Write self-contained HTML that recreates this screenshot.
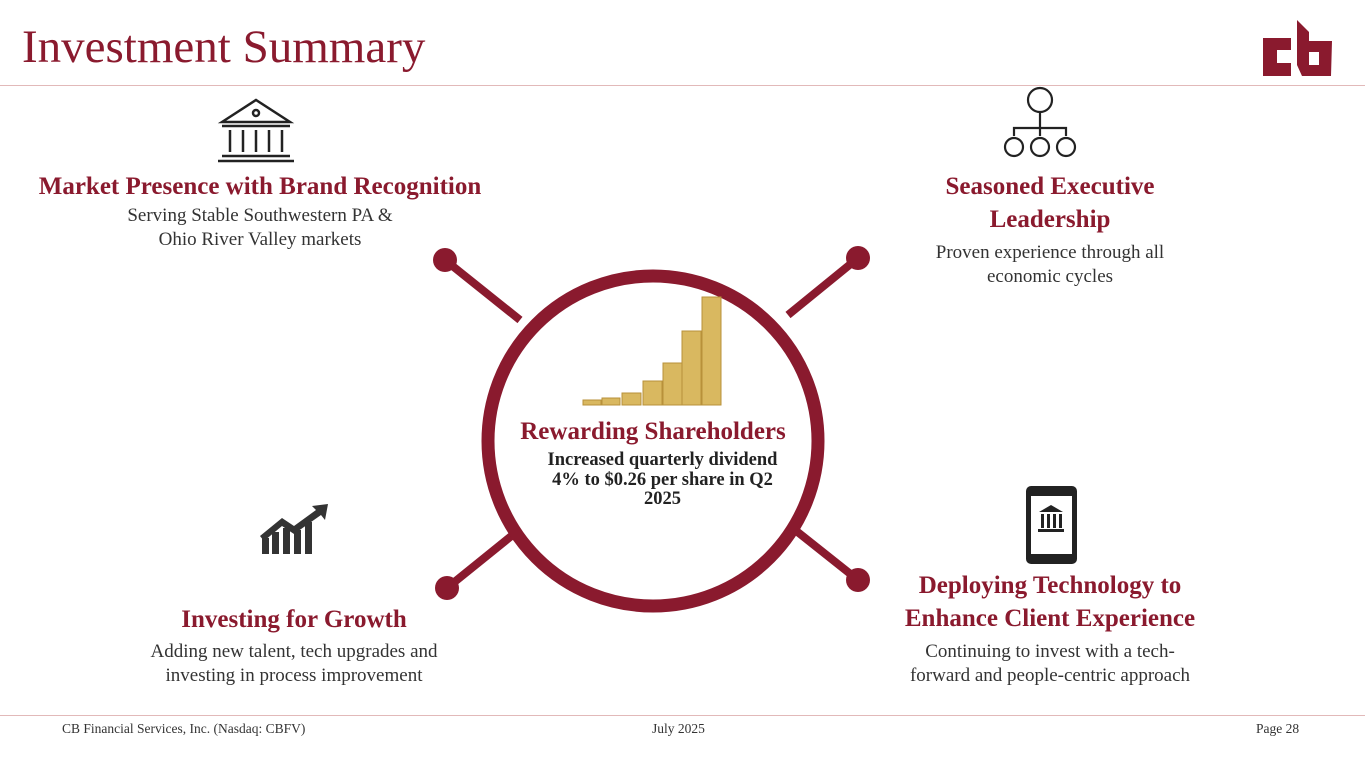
<!DOCTYPE html>
<html><head><meta charset="utf-8"><style>
body{margin:0;width:1365px;height:768px;background:#fff;position:relative;overflow:hidden;font-family:"Liberation Serif",serif;}
.a{position:absolute;}
.h{color:#8a1a2e;font-weight:bold;font-size:25px;text-align:center;line-height:33px;white-space:nowrap;}
.t{color:#333;font-size:19px;text-align:center;line-height:23.5px;white-space:nowrap;}
.f{font-size:13.5px;color:#333;top:721px;}
</style></head><body>
<div class="a" style="left:22px;top:20px;font-size:47px;color:#8a1a2e;">Investment Summary</div>
<svg class="a" style="left:1255px;top:15px" width="85" height="65" viewBox="0 0 85 65">
<path d="M8 23 H36 V35 H22 V48 H36 V61 H8 Z" fill="#8a1a2e"/>
<path d="M42 5 L54 17 V26 H77 L76 61 H47 L42 50 Z M54 37 V50 H64 V37 Z" fill="#8a1a2e" fill-rule="evenodd"/>
</svg>
<div class="a" style="left:0;top:85px;width:1365px;height:1px;background:#e2b9b9"></div>
<div class="a" style="left:0;top:715px;width:1365px;height:1px;background:#e2b9b9"></div>
<svg class="a" style="left:0;top:0" width="1365" height="768">
<g stroke="#8a1a2e" stroke-width="8">
<line x1="445" y1="260" x2="520" y2="320"/><line x1="858" y1="258" x2="788" y2="315"/>
<line x1="447" y1="588" x2="525" y2="525"/><line x1="858" y1="580" x2="785" y2="522"/>
</g>
<g fill="#8a1a2e"><circle cx="445" cy="260" r="12"/><circle cx="858" cy="258" r="12"/><circle cx="447" cy="588" r="12"/><circle cx="858" cy="580" r="12"/></g>
<circle cx="653" cy="441" r="165" fill="#fff" stroke="#8a1a2e" stroke-width="13"/>
<g fill="#d9b860" stroke="#b8913a" stroke-width="1">
<rect x="583" y="400" width="18" height="5"/><rect x="602" y="398" width="18" height="7"/><rect x="622" y="393" width="19" height="12"/><rect x="643" y="381" width="19" height="24"/><rect x="663" y="363" width="19" height="42"/><rect x="682" y="331" width="19" height="74"/><rect x="702" y="297" width="19" height="108"/>
</g>
<g fill="none" stroke="#222" stroke-width="2.5">
<path d="M222 122 L256 100 L290 122 Z"/><circle cx="256" cy="113" r="3"/>
<line x1="222" y1="126" x2="290" y2="126"/><line x1="218" y1="161" x2="294" y2="161"/><line x1="222" y1="156" x2="290" y2="156"/>
<line x1="230" y1="130" x2="230" y2="152"/><line x1="243" y1="130" x2="243" y2="152"/><line x1="256" y1="130" x2="256" y2="152"/><line x1="269" y1="130" x2="269" y2="152"/><line x1="282" y1="130" x2="282" y2="152"/>
</g>
<g fill="none" stroke="#222" stroke-width="2.2">
<circle cx="1040" cy="100" r="12"/><line x1="1040" y1="112" x2="1040" y2="136"/><path d="M1014 136 V128 H1066 V136"/>
<circle cx="1014" cy="147" r="9"/><circle cx="1040" cy="147" r="9"/><circle cx="1066" cy="147" r="9"/>
</g>
<g fill="#333"><rect x="262" y="538" width="7" height="16"/><rect x="272" y="532" width="7" height="22"/><rect x="283" y="528" width="7" height="26"/><rect x="294" y="530" width="7" height="24"/><rect x="305" y="522" width="7" height="32"/>
<path d="M260 536 L282 518 L294 526 L316 510 L312 506 L328 504 L325 520 L321 515 L294 534 L282 526 L264 541Z"/></g>
<rect x="1026" y="486" width="51" height="78" rx="5" fill="#222"/><rect x="1031" y="496" width="41" height="58" fill="#fff"/>
<g fill="#222"><path d="M1039 512 L1051 505 L1063 512Z"/><rect x="1041" y="514" width="3" height="14"/><rect x="1047" y="514" width="3" height="14"/><rect x="1053" y="514" width="3" height="14"/><rect x="1059" y="514" width="3" height="14"/><rect x="1038" y="529" width="26" height="3"/></g>
</svg>
<div class="a h" style="left:10px;top:170px;width:500px;">Market Presence with Brand Recognition</div>
<div class="a t" style="left:110px;top:204px;width:300px;">Serving Stable Southwestern PA &amp;<br>Ohio River Valley markets</div>
<div class="a h" style="left:900px;top:170px;width:300px;">Seasoned Executive<br>Leadership</div>
<div class="a t" style="left:900px;top:241px;width:300px;">Proven experience through all<br>economic cycles</div>
<div class="a h" style="left:503px;top:415px;width:300px;">Rewarding Shareholders</div>
<div class="a" style="left:510px;top:451px;width:305px;text-align:center;font-weight:bold;font-size:18.5px;line-height:19.5px;color:#222;">Increased quarterly dividend<br>4% to $0.26 per share in Q2<br>2025</div>
<div class="a h" style="left:144px;top:603px;width:300px;">Investing for Growth</div>
<div class="a t" style="left:124px;top:640px;width:340px;">Adding new talent, tech upgrades and<br>investing in process improvement</div>
<div class="a h" style="left:870px;top:569px;width:360px;">Deploying Technology to<br>Enhance Client Experience</div>
<div class="a t" style="left:870px;top:640px;width:360px;">Continuing to invest with a tech-<br>forward and people-centric approach</div>
<div class="a f" style="left:62px;">CB Financial Services, Inc. (Nasdaq: CBFV)</div>
<div class="a f" style="left:652px;">July 2025</div>
<div class="a f" style="left:1256px;">Page 28</div>
</body></html>
